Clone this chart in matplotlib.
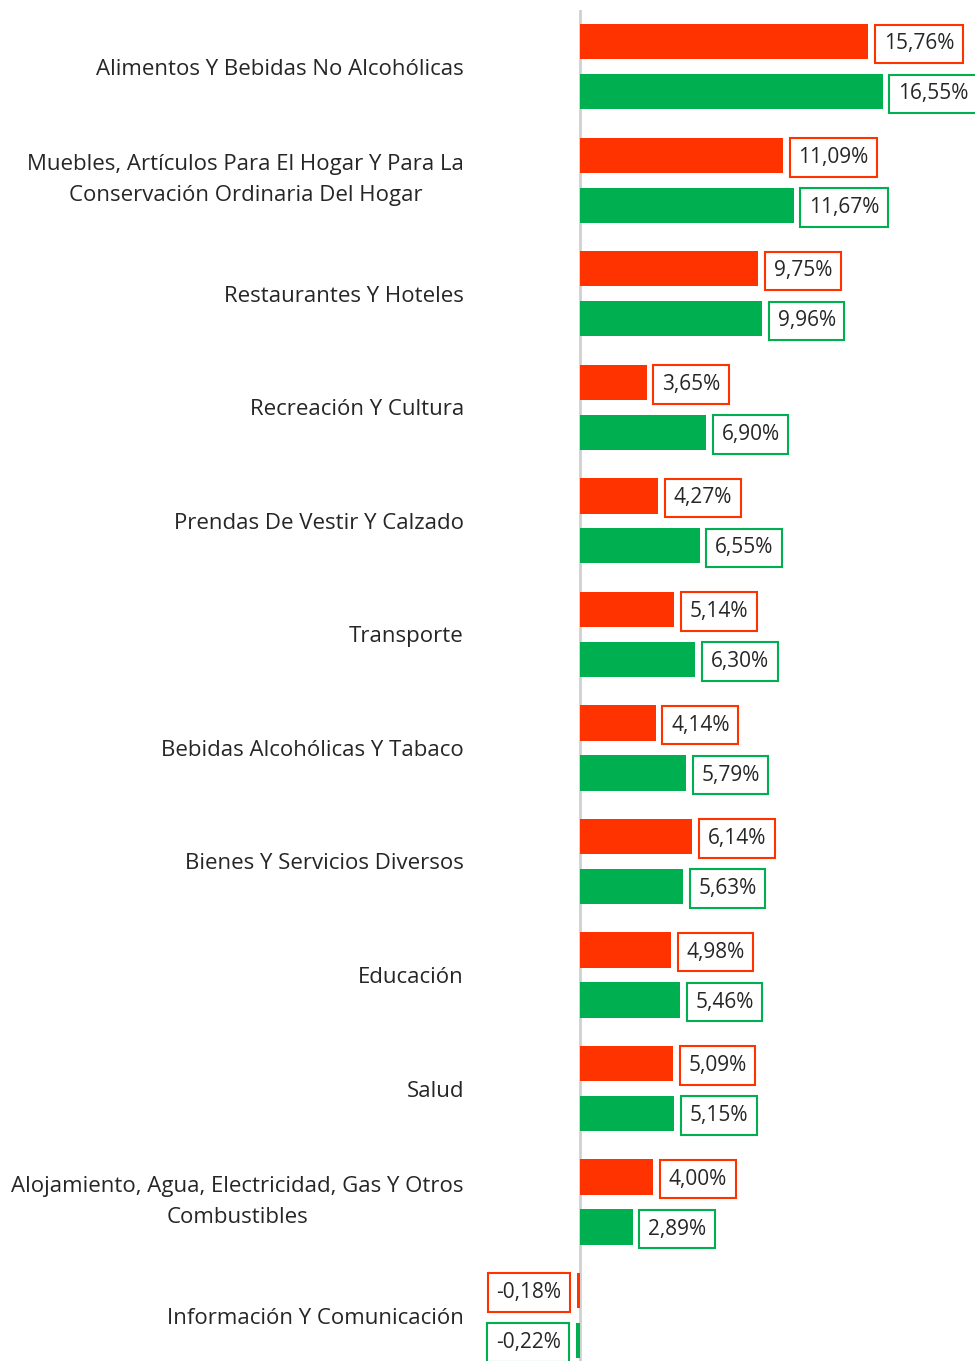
import matplotlib.pyplot as plt
import numpy as np

plt.rcParams['font.family'] = ['Open Sans', 'DejaVu Sans']

categories = [
    'Alimentos Y Bebidas No Alcohólicas',
    'Muebles, Artículos Para El Hogar Y Para La\nConservación Ordinaria Del Hogar',
    'Restaurantes Y Hoteles',
    'Recreación Y Cultura',
    'Prendas De Vestir Y Calzado',
    'Transporte',
    'Bebidas Alcohólicas Y Tabaco',
    'Bienes Y Servicios Diversos',
    'Educación',
    'Salud',
    'Alojamiento, Agua, Electricidad, Gas Y Otros\nCombustibles',
    'Información Y Comunicación',
]
serie_roja = [15.76, 11.09, 9.75, 3.65, 4.27, 5.14, 4.14, 6.14, 4.98, 5.09, 4.00, -0.18]
serie_verde = [16.55, 11.67, 9.96, 6.90, 6.55, 6.30, 5.79, 5.63, 5.46, 5.15, 2.89, -0.22]

RED = '#FF3300'
GREEN = '#00B050'

fig = plt.figure(figsize=(9.75, 13.61), dpi=100)
ax = fig.add_axes([475 / 975, 0, 500 / 975, 1351 / 1361])

y = np.arange(len(categories))
off = 0.22
h = 0.31
ax.barh(y - off, serie_roja, height=h, color=RED)
ax.barh(y + off, serie_verde, height=h, color=GREEN)

def fmt(v):
    return f'{v:.2f}'.replace('.', ',') + '%'

for vals, yy, col in [(serie_roja, y - off, RED), (serie_verde, y + off, GREEN)]:
    for v, yi in zip(vals, yy):
        dx = 11 if v >= 0 else -11
        ax.annotate(fmt(v), (v, yi), xytext=(dx, -1.5), textcoords='offset points',
                    ha='left' if v >= 0 else 'right', va='center', fontsize=15,
                    color='#262626',
                    bbox=dict(boxstyle='square,pad=0.42', fc='white', ec=col, lw=1.5),
                    annotation_clip=False)

ax.set_xlim(-5.74, 21.58)
ax.set_ylim(11.4, -0.5)
ax.set_yticks(y)
ax.set_yticklabels(categories, fontsize=16, color='#262626', linespacing=1.6)
for t in ax.get_yticklabels():
    t.set_multialignment('center')
    if '\n' in t.get_text():
        t.set_verticalalignment('center')
ax.tick_params(axis='y', length=0, pad=8)
ax.set_xticks([])
for s in ax.spines.values():
    s.set_visible(False)
ax.axvline(0, color='#D0D0D0', lw=2, zorder=0)

fig.savefig('out.png', dpi=100, facecolor='white')
